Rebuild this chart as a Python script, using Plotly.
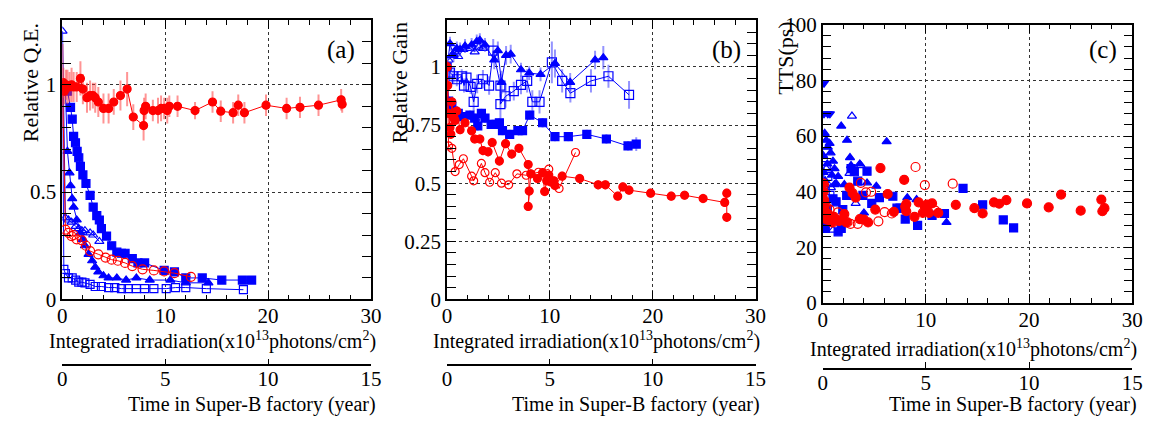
import plotly.graph_objects as go

# ---------------- Panel (a): Relative Q.E. ----------------
a_rfc_x = [0.02, 0.1, 0.2, 0.35, 0.5, 0.7, 0.9, 1.1, 1.4, 1.76, 2.0, 2.4, 2.7, 2.97, 3.2, 3.5, 4.0, 4.5, 5.0,
           5.65, 6.3, 6.9, 7.9, 7.95, 8.1, 8.8, 9.3, 9.6, 9.9, 10.2, 10.4, 11.2, 12.9, 14.6, 15.4, 16.6, 17.1,
           17.7, 19.8, 21.8, 23.1, 24.9, 27.1, 27.2]
a_rfc_y = [0.99, 1.01, 0.97, 1.0, 0.99, 0.99, 1.0, 0.99, 0.99, 1.03, 0.98, 0.94, 0.95, 0.95, 0.94, 0.92, 0.89,
           0.89, 0.92, 0.95, 0.98, 0.85, 0.81, 0.88, 0.90, 0.88, 0.88, 0.89, 0.89, 0.88, 0.90, 0.90, 0.88, 0.92,
           0.877, 0.87, 0.905, 0.87, 0.905, 0.89, 0.895, 0.905, 0.93, 0.91]
a_rfc_e = [0.2, 0.07, 0.06, 0.07, 0.08, 0.07, 0.08, 0.07, 0.07, 0.08, 0.07, 0.07, 0.07, 0.06, 0.07, 0.07, 0.07,
           0.07, 0.06, 0.07, 0.08, 0.06, 0.07, 0.06, 0.06, 0.05, 0.06, 0.06, 0.05, 0.06, 0.05, 0.05, 0.04, 0.05,
           0.05, 0.05, 0.05, 0.05, 0.05, 0.05, 0.05, 0.05, 0.05, 0.04]

a_bfs_x = [0.02, 0.5, 0.8, 0.96, 1.1, 1.28, 1.44, 1.6, 1.76, 2.0, 2.3, 2.7, 3.0, 3.35, 3.6, 3.8, 4.3, 4.8, 5.3,
           5.75, 6.1, 6.8, 7.35, 8.0, 9.9, 10.9, 12.0, 13.6, 15.5, 17.5, 18.4]
a_bfs_y = [1.0, 0.97, 0.895, 0.84, 0.76, 0.73, 0.69, 0.66, 0.62, 0.58, 0.54, 0.485, 0.43, 0.39, 0.37, 0.33,
           0.295, 0.25, 0.22, 0.215, 0.215, 0.19, 0.17, 0.17, 0.135, 0.128, 0.10, 0.10, 0.09, 0.09, 0.09]

a_bft_x = [0.02, 0.3, 0.5, 0.7, 0.8, 0.96, 1.1, 1.4, 1.76, 2.0, 2.2, 2.55, 2.9, 3.2, 3.5, 4.0, 4.5, 5.3, 6.2,
           7.2, 8.5, 10.5, 12.0, 14.2]
a_bft_y = [1.0, 0.97, 0.69, 0.59, 0.53, 0.47, 0.43, 0.37, 0.31, 0.28, 0.25, 0.21, 0.18, 0.15, 0.128, 0.11, 0.10,
           0.10, 0.09, 0.10, 0.09, 0.09, 0.077, 0.077]

a_bot_x = [0.02, 0.3, 0.6, 0.9, 1.3, 1.6, 1.9, 2.2, 2.7, 3.0, 3.6]
a_bot_y = [1.25, 0.38, 0.37, 0.36, 0.34, 0.33, 0.32, 0.32, 0.31, 0.30, 0.27]

a_bos_x = [0.02, 0.15, 0.3, 0.6, 0.96, 1.3, 1.6, 1.9, 2.2, 2.7, 3.2, 3.8, 4.5, 5.1, 5.75, 6.4, 7.2, 8.0, 8.9,
           10.1, 11.0, 12.0, 14.0, 17.6]
a_bos_y = [1.0, 0.14, 0.12, 0.10, 0.10, 0.09, 0.08, 0.08, 0.077, 0.07, 0.06, 0.06, 0.055, 0.055, 0.05, 0.05,
           0.05, 0.05, 0.05, 0.05, 0.055, 0.055, 0.05, 0.045]

a_roc_x = [0.02, 0.3, 0.6, 0.9, 1.1, 1.4, 1.9, 2.3, 2.7, 3.5, 4.2, 4.8, 5.4, 6.1, 6.8, 7.8, 8.9, 9.9, 10.9, 12.5]
a_roc_y = [1.0, 0.325, 0.31, 0.295, 0.30, 0.28, 0.275, 0.25, 0.225, 0.21, 0.195, 0.185, 0.18, 0.17, 0.155, 0.14,
           0.135, 0.13, 0.122, 0.105]

# ---------------- Panel (b): Relative Gain ----------------
b_rfc_x = [0.02, 0.08, 0.16, 0.3, 0.38, 0.48, 0.64, 0.8, 0.96, 1.28, 1.76, 2.4, 2.7, 3.2, 3.5, 4.0, 4.4, 5.1, 5.7,
           6.3, 7.0, 7.9, 8.0, 7.9, 8.15, 8.8, 9.3, 9.5, 9.7, 9.9, 10.1, 10.4, 10.5, 11.2, 12.9, 14.7, 15.4, 16.6,
           17.1, 17.7, 19.8, 21.8, 23.1, 24.9, 27.0, 27.2, 27.2]
b_rfc_y = [1.0, 0.92, 0.80, 0.74, 0.71, 0.85, 0.78, 0.77, 0.81, 0.73, 0.76, 0.725, 0.69, 0.69, 0.64, 0.635, 0.675,
           0.595, 0.67, 0.625, 0.65, 0.58, 0.466, 0.40, 0.54, 0.52, 0.545, 0.464, 0.51, 0.535, 0.505, 0.51, 0.49,
           0.53, 0.52, 0.493, 0.493, 0.444, 0.484, 0.47, 0.457, 0.444, 0.448, 0.434, 0.417, 0.457, 0.353]
b_rfc_e = [0.03, 0.03, 0.02, 0.02, 0.02, 0.02, 0.02, 0.02, 0.02, 0.02, 0.02, 0.02, 0.02, 0.02, 0.02, 0.02, 0.02,
           0.02, 0.02, 0.02, 0.02, 0.02, 0.02, 0.02, 0.02, 0.02, 0.02, 0.02, 0.02, 0.02, 0.02, 0.02, 0.02, 0.02,
           0.02, 0.02, 0.02, 0.02, 0.02, 0.02, 0.02, 0.02, 0.02, 0.02, 0.02, 0.02, 0.02]

b_roc_x = [0.02, 0.16, 0.48, 0.8, 1.2, 1.6, 2.4, 2.6, 3.35, 3.7, 4.15, 4.7, 5.3, 6.0, 6.8, 7.7, 8.9, 9.9, 10.9, 12.5]
b_roc_y = [1.0, 0.66, 0.65, 0.55, 0.58, 0.605, 0.53, 0.51, 0.585, 0.545, 0.504, 0.545, 0.50, 0.493, 0.54, 0.534,
           0.547, 0.56, 0.477, 0.632]

b_bfs_x = [0.02, 0.16, 0.48, 0.64, 1.1, 1.6, 2.24, 2.7, 3.0, 3.35, 3.7, 4.3, 4.8, 5.1, 5.4, 6.1, 6.9, 7.35, 8.05,
           9.3, 10.5, 11.8, 13.6, 15.5, 17.6, 18.4]
b_bfs_y = [1.0, 0.853, 0.83, 0.81, 0.80, 0.786, 0.793, 0.78, 0.746, 0.80, 0.78, 0.753, 0.753, 0.76, 0.726, 0.71,
           0.726, 0.726, 0.793, 0.76, 0.70, 0.70, 0.71, 0.69, 0.66, 0.668]
b_bfs_e = [0.02, 0.02, 0.02, 0.02, 0.02, 0.02, 0.02, 0.02, 0.02, 0.02, 0.02, 0.02, 0.02, 0.02, 0.02, 0.02, 0.02,
           0.02, 0.02, 0.02, 0.02, 0.02, 0.02, 0.02, 0.02, 0.03]

b_bft_x = [0.02, 0.3, 0.64, 0.96, 1.28, 1.76, 2.4, 2.9, 3.2, 3.7, 4.6, 4.95, 5.3, 5.75, 6.2, 7.2, 8.0, 9.1, 10.5,
           11.98, 14.4, 15.2]
b_bft_y = [1.0, 1.10, 1.05, 1.08, 1.075, 1.09, 1.095, 1.11, 1.115, 1.095, 1.03, 1.07, 0.934, 1.05, 1.055, 0.988,
           0.974, 0.968, 1.015, 0.934, 1.03, 1.04]
b_bft_e = [0.03, 0.03, 0.03, 0.03, 0.03, 0.03, 0.03, 0.03, 0.03, 0.03, 0.04, 0.04, 0.05, 0.04, 0.04, 0.03, 0.03,
           0.03, 0.06, 0.04, 0.04, 0.05]

b_bot_x = [0.16, 0.48, 0.8, 1.1, 1.6, 2.24, 2.7, 3.1, 3.5]
b_bot_y = [1.03, 1.05, 1.065, 1.045, 1.075, 1.08, 1.065, 1.085, 1.08]

b_bos_x = [0.3, 0.64, 0.96, 1.44, 1.66, 1.9, 2.3, 2.6, 2.94, 3.5, 4.1, 4.5, 5.2, 5.2, 5.7, 6.5, 7.2, 7.8, 8.3,
           9.0, 10.2, 11.2, 12.0, 14.0, 15.7, 17.7]
b_bos_y = [0.976, 0.96, 0.947, 0.96, 0.92, 0.954, 0.914, 0.85, 0.927, 0.947, 0.92, 1.07, 0.92, 0.84, 0.874, 0.896,
           0.923, 0.94, 0.85, 0.85, 1.02, 0.94, 0.887, 0.94, 0.96, 0.88]
b_bos_e = [0.03, 0.03, 0.03, 0.03, 0.03, 0.03, 0.03, 0.04, 0.04, 0.04, 0.04, 0.05, 0.05, 0.06, 0.05, 0.04, 0.04,
           0.05, 0.05, 0.05, 0.09, 0.05, 0.04, 0.05, 0.05, 0.06]

# ---------------- Panel (c): TTS(ps) ----------------
c_bfd_x = [0.13, 0.13, 0.5, 0.7]
c_bfd_y = [79, 68, 68, 68]

c_bft_x = [0.05, 0.1, 0.2, 0.25, 0.35, 0.45, 0.5, 0.67, 0.77, 0.9, 1.0, 1.15, 1.3, 1.5, 1.8, 2.1, 2.36, 2.65,
           2.75, 3.6, 4.0, 4.3, 5.2, 6.2, 8.2, 9.1, 12.0]
c_bft_y = [53, 47, 61, 44, 58.5, 50, 56, 57.4, 54, 46, 51, 48.3, 43, 45.5, 63.6, 42.6, 58.5, 52.3, 49.4, 50,
           32.4, 43.2, 42, 58, 37.9, 37.2, 29]

c_bot_x = [0.2, 0.35, 0.8, 1.0, 1.15, 2.6, 2.84, 3.2, 3.7]
c_bot_y = [42, 48.3, 41.5, 26.2, 42.6, 46.6, 67.2, 35.8, 49.4]

c_bos_x = [0.25, 0.35, 0.5, 0.7]
c_bos_y = [40.4, 49.4, 45.5, 38.7]

c_bfs_x = [0.13, 0.26, 0.45, 1.0, 1.3, 1.5, 1.8, 1.95, 2.33, 2.75, 3.07, 3.4, 3.9, 4.3, 4.76, 5.5, 6.8, 7.2, 7.5,
           8.0, 9.2, 10.6, 11.8, 13.6, 15.5, 17.5, 18.5]
c_bfs_y = [29, 26.8, 33.6, 37.5, 36.4, 25.6, 26.8, 33.6, 38.7, 48.3, 47.2, 43.8, 38.7, 47.4, 35.8, 37.9, 38.4,
           34.1, 34.1, 30.2, 27.9, 31.5, 32.2, 41.2, 35.3, 29.9, 27]

c_rfc_x = [0.05, 0.1, 0.15, 0.2, 0.25, 0.3, 0.4, 0.55, 0.7, 0.9, 1.1, 1.3, 1.6, 1.9, 2.1, 2.3, 2.6, 2.9, 3.2,
           3.6, 4.0, 4.4, 5.1, 5.6, 6.3, 6.9, 7.9, 8.0, 8.1, 8.1, 8.9, 9.3, 9.7, 9.9, 10.1, 10.3, 10.6, 11.2, 12.9,
           14.7, 15.5, 16.6, 17.1, 17.8, 19.8, 21.9, 23.1, 25.0, 27.0, 27.1, 27.3]
c_rfc_y = [43, 40, 37, 35, 33, 31, 30, 32, 30, 29, 31, 30, 29.5, 30, 32, 29, 41.5, 39.5, 37.9, 30.2, 30, 29, 33.6,
           48.5, 39.2, 32.8, 44.3, 34.7, 35.6, 33, 31, 36.2, 32.4, 34.7, 35.4, 32.4, 35.8, 32.4, 35.3, 34.1, 32.2,
           36.2, 35.7, 37, 35.8, 34.4, 39, 33.2, 37.2, 33, 34.1]

c_roc_x = [0.13, 0.35, 0.67, 1.0, 1.5, 2.4, 2.7, 3.4, 3.7, 4.2, 4.7, 5.4, 6.0, 6.7, 9.0, 9.9, 10.9, 12.6]
c_roc_y = [42.6, 34.7, 33.6, 29, 32.6, 29, 28.5, 28.5, 43.2, 39.8, 40, 29.4, 32.7, 32.2, 48.9, 42.4, 33.2, 42.9]

# ---------------- axes / text ----------------
time_ticks = [0, 5, 10, 15]
panel_labels = ["(a)", "(b)", "(c)"]
y_titles = ["Relative Q.E.", "Relative Gain", "TTS(ps)"]
x_title = "Integrated irradiation(x10<sup>13</sup>photons/cm<sup>2</sup>)"
t_title = "Time in Super-B factory (year)"

BLUE = "#0000ff"
RED = "#ff0000"
FONT = "Liberation Serif"
W, H = 1157, 427


def series(x, y, color, symbol, xa, ya, err=None, lines=True, size=8, ecolor=None, ethick=2):
    kw = {}
    if err is not None:
        kw["error_y"] = dict(type="data", array=err, visible=True, color=ecolor or color,
                             thickness=ethick, width=0)
    return go.Scatter(x=x, y=y, xaxis=xa, yaxis=ya,
                      mode="lines+markers" if lines else "markers",
                      line=dict(color=color, width=1),
                      marker=dict(symbol=symbol, size=size, color=color,
                                  line=dict(color=color, width=1.2)),
                      showlegend=False, cliponaxis=True, **kw)


fig = go.Figure()
RED_E = "rgba(255,60,60,0.55)"
BLUE_E = "rgba(60,60,255,0.55)"
# (a)
fig.add_trace(series(a_bos_x, a_bos_y, BLUE, "square-open", "x", "y"))
fig.add_trace(series(a_bot_x, a_bot_y, BLUE, "triangle-up-open", "x", "y"))
fig.add_trace(series(a_bft_x, a_bft_y, BLUE, "triangle-up", "x", "y"))
fig.add_trace(series(a_bfs_x, a_bfs_y, BLUE, "square", "x", "y"))
fig.add_trace(series(a_roc_x, a_roc_y, RED, "circle-open", "x", "y", size=9))
fig.add_trace(series(a_rfc_x, a_rfc_y, RED, "circle", "x", "y", err=a_rfc_e, ecolor=RED_E))
# (b)
fig.add_trace(series(b_bos_x, b_bos_y, BLUE, "square-open", "x2", "y2", err=b_bos_e, ecolor=BLUE_E, size=9))
fig.add_trace(series(b_bot_x, b_bot_y, BLUE, "triangle-up-open", "x2", "y2"))
fig.add_trace(series(b_bft_x, b_bft_y, BLUE, "triangle-up", "x2", "y2", err=b_bft_e, ecolor=BLUE_E))
fig.add_trace(series(b_bfs_x, b_bfs_y, BLUE, "square", "x2", "y2", err=b_bfs_e, ecolor=BLUE_E))
fig.add_trace(series(b_roc_x, b_roc_y, RED, "circle-open", "x2", "y2"))
fig.add_trace(series(b_rfc_x, b_rfc_y, RED, "circle", "x2", "y2", err=b_rfc_e, ecolor=RED_E))
# (c)
fig.add_trace(series(c_bfd_x, c_bfd_y, BLUE, "triangle-down", "x3", "y3", lines=False))
fig.add_trace(series(c_bft_x, c_bft_y, BLUE, "triangle-up", "x3", "y3", lines=False))
fig.add_trace(series(c_bot_x, c_bot_y, BLUE, "triangle-up-open", "x3", "y3", lines=False))
fig.add_trace(series(c_bos_x, c_bos_y, BLUE, "square-open", "x3", "y3", lines=False))
fig.add_trace(series(c_bfs_x, c_bfs_y, BLUE, "square", "x3", "y3", lines=False))
fig.add_trace(series(c_rfc_x, c_rfc_y, RED, "circle", "x3", "y3", lines=False, size=9))
fig.add_trace(series(c_roc_x, c_roc_y, RED, "circle-open", "x3", "y3", lines=False, size=9))

# empty traces so that the secondary (time) axes get drawn
for i in range(3):
    ysfx = "" if i == 0 else str(i + 1)
    fig.add_trace(go.Scatter(x=time_ticks, y=[None] * len(time_ticks), xaxis="x" + str(i + 4),
                             yaxis="y" + ysfx, mode="lines", showlegend=False, hoverinfo="skip"))

# layout geometry (pixels)
px_x = [(50, 363), (440, 753), (821, 1135)]
px_y = [(0.5, 296), (0.5, 296), (5, 300)]
t_axis_y = [366, 366, 370]
yranges = [(0, 1.3), (0, 1.2), (0, 100)]
yminor = [0.1, 0.05, 4]
ytickvals = [[0, 0.5, 1], [0, 0.25, 0.5, 0.75, 1], [0, 20, 40, 60, 80, 100]]
yticktext = [["0", "0.5", "1"], ["0", "0.25", "0.5", "0.75", "1"], ["0", "20", "40", "60", "80", "100"]]

tickfont = dict(family=FONT, size=21, color="black")
common = dict(showline=True, linecolor="black", linewidth=1.5, mirror="allticks", ticks="inside",
              ticklen=9, tickwidth=1, tickcolor="black", zeroline=False, tickfont=tickfont,
              showgrid=True, gridcolor="#333333", gridwidth=1, griddash="dot")

lay = dict(width=W, height=H, margin=dict(l=0, r=0, t=0, b=0), paper_bgcolor="white",
           plot_bgcolor="white", showlegend=False)
annotations = []
for i in range(3):
    sfx = "" if i == 0 else str(i + 1)
    x0, x1 = px_x[i]
    yt, yb = px_y[i]
    lay["xaxis" + sfx] = dict(common, domain=[x0 / W, x1 / W], range=[0, 30], dtick=10, anchor="y" + sfx,
                              ticklabelstandoff=-3,
                              minor=dict(dtick=2, ticklen=5, ticks="inside", tickcolor="black", showgrid=False))
    lay["yaxis" + sfx] = dict(common, domain=[(H - yb) / H, (H - yt) / H], range=list(yranges[i]),
                              tickvals=ytickvals[i], ticktext=yticktext[i], anchor="x" + sfx,
                              ticklabelstandoff=0, ticklabeloverflow="allow",
                              minor=dict(dtick=yminor[i], ticklen=5, ticks="inside", tickcolor="black",
                                         showgrid=False))
    # secondary time axis
    lay["xaxis" + str(i + 4)] = dict(overlaying="x" + sfx, anchor="free", position=(H - t_axis_y[i]) / H,
                                     range=[0, 15], tickvals=time_ticks, ticks="inside", ticklen=6,
                                     tickcolor="black", tickwidth=1, showline=True, linecolor="black",
                                     linewidth=1.5, showgrid=False, zeroline=False, tickfont=tickfont,
                                     side="bottom", ticklabelstandoff=-5)
    # texts
    annotations.append(dict(text=panel_labels[i], x=(x1 - 30) / W, y=(H - 32) / H, xref="paper", yref="paper",
                            xanchor="center", yanchor="middle", showarrow=False,
                            font=dict(family=FONT, size=25, color="black")))
    annotations.append(dict(text=x_title, x=(x1 + 7) / W, y=(H - (340 if i < 2 else 348)) / H, xref="paper",
                            yref="paper", xanchor="right", yanchor="middle", showarrow=False,
                            font=dict(family=FONT, size=20, color="black")))
    annotations.append(dict(text=t_title, x=(x1 + 7) / W, y=(H - 407) / H, xref="paper", yref="paper",
                            xanchor="right", yanchor="middle", showarrow=False,
                            font=dict(family=FONT, size=20, color="black")))

annotations.append(dict(text=y_titles[0], x=18 / W, y=(H - 1) / H, xref="paper", yref="paper",
                        xanchor="center", yanchor="top", textangle=-90, showarrow=False,
                        font=dict(family=FONT, size=22, color="black")))
annotations.append(dict(text=y_titles[1], x=391 / W, y=(H - 0) / H, xref="paper", yref="paper",
                        xanchor="center", yanchor="top", textangle=-90, showarrow=False,
                        font=dict(family=FONT, size=22, color="black")))
annotations.append(dict(text=y_titles[2], x=783 / W, y=(H - 0) / H, xref="paper", yref="paper",
                        xanchor="center", yanchor="top", textangle=-90, showarrow=False,
                        font=dict(family=FONT, size=22, color="black")))
lay["annotations"] = annotations
fig.update_layout(**lay)

fig.write_html("out.html")
